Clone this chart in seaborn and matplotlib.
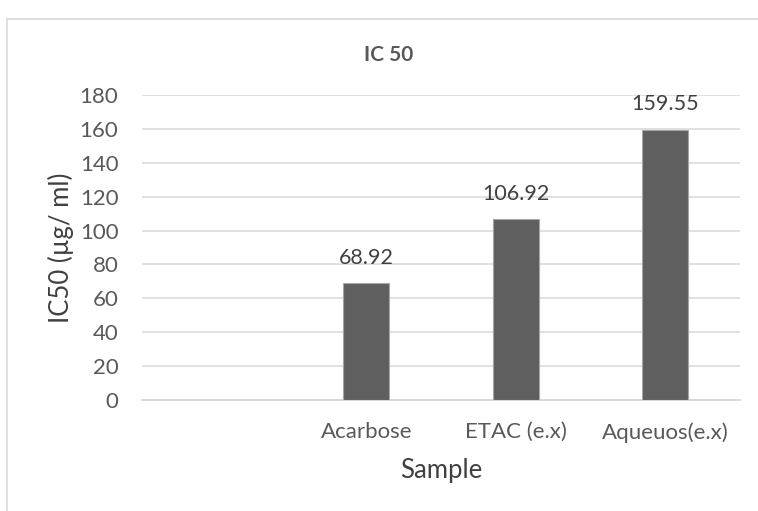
import numpy as np
import pandas as pd
import matplotlib
matplotlib.use("Agg")
import matplotlib.pyplot as plt
import seaborn as sns
from matplotlib.patches import Rectangle

# Données (la première catégorie est vide)
samples = ["", "Acarbose", "ETAC (e.x)", "Aqueuos(e.x)"]
ic50 = [np.nan, 68.92, 106.92, 159.55]
y_ticks = [0, 20, 40, 60, 80, 100, 120, 140, 160, 180]

df = pd.DataFrame({"Sample": samples, "IC50": ic50})

sns.set_theme(style="white")
plt.rcParams["font.family"] = ["Lato", "DejaVu Sans"]

W, H = 758, 511
fig = plt.figure(figsize=(W / 100, H / 100), dpi=100)
ax = fig.add_axes([142 / W, 1 - 400 / H, (740 - 142) / W, (400 - 95) / H])

sns.barplot(data=df, x="Sample", y="IC50", order=samples, color="#5f5f5f",
            width=0.31, saturation=1, edgecolor="#a6a6a6", linewidth=0.8, ax=ax, zorder=3)

# étiquettes de données
for i, v in enumerate(ic50):
    if not np.isnan(v):
        ax.annotate(f"{v:.2f}", (i, v), xytext=(0, 11), textcoords="offset points",
                    ha="center", va="bottom", fontsize=15.5, color="#404040")

ax.set_ylim(0, 180)
ax.set_yticks(y_ticks)
ax.yaxis.grid(True, color="#d9d9d9", linewidth=1.1, zorder=0)
ax.set_axisbelow(True)
for s in ["top", "right", "left"]:
    ax.spines[s].set_visible(False)
ax.spines["bottom"].set_color("#d9d9d9")
ax.spines["bottom"].set_linewidth(1.4)
ax.tick_params(axis="both", length=0, labelsize=16, colors="#595959")
ax.tick_params(axis="y", pad=17)
ax.tick_params(axis="x", pad=16)

ax.set_xlabel("Sample", fontsize=18.5, color="#404040")
ax.set_ylabel("IC50 (µg/ ml)", fontsize=18.5, color="#404040")
ax.xaxis.set_label_coords(0.5, (400 - 458) / 305)
ax.yaxis.set_label_coords((74 - 142) / 598, 0.5)

fig.text(389 / W, 1 - 55 / H, "IC 50", ha="center", va="center",
         fontsize=15, fontweight="bold", color="#595959")

# cadre du graphique
fig.patches.append(Rectangle((7 / W, -0.1), 1.0, 1 - 19 / H + 0.1, transform=fig.transFigure,
                             fill=False, edgecolor="#d9d9d9", linewidth=1.2))

fig.savefig("out.png", dpi=100)
